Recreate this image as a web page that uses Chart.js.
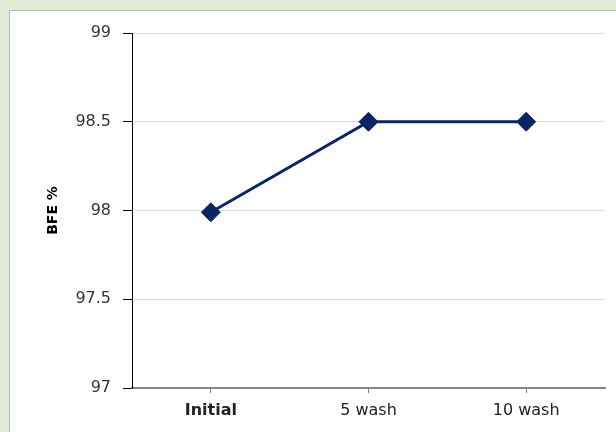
<!DOCTYPE html>
<html>
<head>
<meta charset="utf-8">
<script src="https://cdn.jsdelivr.net/npm/chart.js@4"></script>
<style>
  html, body { margin: 0; padding: 0; }
  body { width: 616px; height: 432px; background: #e2ecd6; position: relative; overflow: hidden; }
  #panel { position: absolute; left: 9px; top: 10px; width: 620px; height: 440px; background: #fff; border: 1px solid #b4b8b0; }
  #wrap { position: absolute; left: 0; top: 0; width: 616px; height: 432px; }
</style>
</head>
<body>
<div id="panel"></div>
<div id="wrap"><canvas id="myChart"></canvas></div>
<script>
// values
const categories = ["Initial", "5 wash", "10 wash"];
const bfeValues = [97.99, 98.5, 98.5];
const yMin = 97;
const yMax = 99;
const yStep = 0.5;

document.addEventListener("DOMContentLoaded", () => {
  const ctx = document.getElementById("myChart").getContext("2d");

  new Chart(ctx, {
    type: "line",
    data: {
      labels: categories,
      datasets: [
        {
          label: "BFE %",
          data: bfeValues,
          borderColor: "#0a2563",
          backgroundColor: "#0a2563",
          borderWidth: 3,
          pointStyle: "rectRot",
          pointRadius: 9.5,
          pointBorderWidth: 1,
          tension: 0,
        },
      ],
    },
    options: {
      responsive: true,
      maintainAspectRatio: false,
      animation: false,
      layout: { padding: { left: 0, top: 33, right: 11, bottom: 0 } },
      plugins: {
        legend: { display: false },
        tooltip: { enabled: false },
      },
      scales: {
        x: {
          offset: true,
          grid: {
            offset: false,
            drawOnChartArea: false,
            drawTicks: true,
            tickLength: 5,
            tickColor: "#7f7f7f",
          },
          border: { color: "#868686", width: 2 },
          ticks: {
            color: "#222",
            padding: 8,
            font: (c) => ({
              family: "DejaVu Sans",
              size: 16,
              weight: c.index === 0 ? "bold" : "normal",
            }),
          },
          afterFit: (scale) => { scale.height = 44; },
        },
        y: {
          min: yMin,
          max: yMax,
          ticks: {
            stepSize: yStep,
            color: "#333",
            padding: 12,
            font: { family: "DejaVu Sans", size: 16 },
            callback: (v) => String(v),
          },
          grid: {
            color: "#d9d9d9",
            tickLength: 9,
            tickColor: "#000",
          },
          border: { color: "#000", width: 1 },
          title: {
            display: true,
            text: "BFE %",
            color: "#000",
            padding: { top: 45, bottom: 0 },
            font: { family: "DejaVu Sans", size: 14, weight: "bold" },
          },
          afterFit: (scale) => { scale.width = 132; },
        },
      },
    },
  });
});
</script>
</body>
</html>
